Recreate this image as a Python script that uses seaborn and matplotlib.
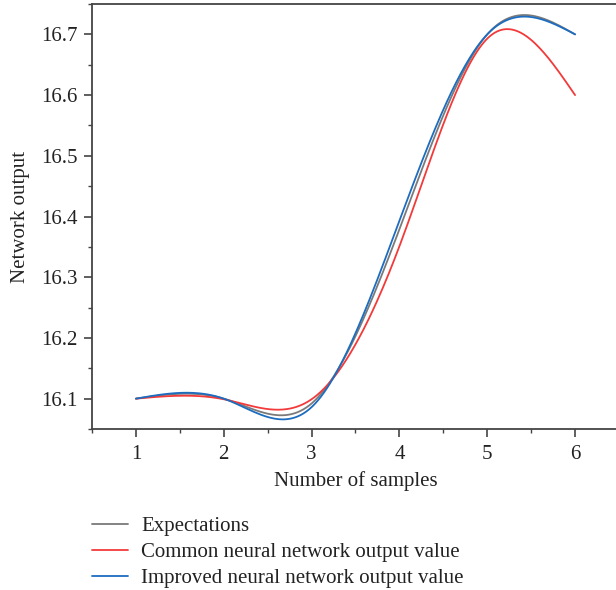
import numpy as np
import pandas as pd
import matplotlib
matplotlib.use("Agg")
import matplotlib.pyplot as plt
from matplotlib.ticker import MultipleLocator, FormatStrFormatter
import seaborn as sns

# ---- data ----
samples = [1, 2, 3, 4, 5, 6]
expectations = [16.100, 16.100, 16.092, 16.379, 16.700, 16.700]
common_nn = [16.100, 16.099, 16.099, 16.351, 16.693, 16.600]
improved_nn = [16.100, 16.100, 16.086, 16.393, 16.700, 16.700]
series_names = ["Expectations",
                "Common neural network output value",
                "Improved neural network output value"]
series_colors = ["#7a7a7a", "#f23a3a", "#1c6cc0"]
x_label = "Number of samples"
y_label = "Network output"


def natural_spline(x, y, xs):
    x = np.asarray(x, float)
    y = np.asarray(y, float)
    n = len(x)
    h = np.diff(x)
    A = np.zeros((n, n))
    b = np.zeros(n)
    A[0, 0] = 1
    A[-1, -1] = 1
    for i in range(1, n - 1):
        A[i, i - 1] = h[i - 1]
        A[i, i] = 2 * (h[i - 1] + h[i])
        A[i, i + 1] = h[i]
        b[i] = 6 * ((y[i + 1] - y[i]) / h[i] - (y[i] - y[i - 1]) / h[i - 1])
    M = np.linalg.solve(A, b)
    idx = np.clip(np.searchsorted(x, xs) - 1, 0, n - 2)
    x0, x1 = x[idx], x[idx + 1]
    hh = x1 - x0
    t0 = x1 - xs
    t1 = xs - x0
    return (M[idx] * t0 ** 3 / (6 * hh) + M[idx + 1] * t1 ** 3 / (6 * hh)
            + (y[idx] / hh - M[idx] * hh / 6) * t0
            + (y[idx + 1] / hh - M[idx + 1] * hh / 6) * t1)


sns.set_theme(style="white")
plt.rcParams["font.family"] = ["Liberation Serif", "DejaVu Serif"]

FS = 15
fig = plt.figure(figsize=(6.16, 5.90), dpi=100)
W, H = 616, 590
left_px, right_px, top_px, bottom_px = 92, 619, 4, 429
ax = fig.add_axes([left_px / W, (H - bottom_px) / H,
                   (right_px - left_px) / W, (bottom_px - top_px) / H])

xs = np.linspace(samples[0], samples[-1], 300)
frames = []
for name, vals in zip(series_names, [expectations, common_nn, improved_nn]):
    frames.append(pd.DataFrame({"x": xs, "y": natural_spline(samples, vals, xs),
                                "series": name}))
df = pd.concat(frames, ignore_index=True)

sns.lineplot(data=df, x="x", y="y", hue="series", hue_order=series_names,
             palette=series_colors, linewidth=1.3, ax=ax, sort=False,
             estimator=None)

ax.set_xlim(0.5, 6.5)
ax.set_ylim(16.05, 16.75)
ax.xaxis.set_major_locator(MultipleLocator(1))
ax.xaxis.set_minor_locator(MultipleLocator(0.5))
ax.yaxis.set_major_locator(MultipleLocator(0.1))
ax.yaxis.set_minor_locator(MultipleLocator(0.05))
ax.yaxis.set_major_formatter(FormatStrFormatter("%.1f"))

spine_col = "#444444"
for s in ["left", "bottom", "top"]:
    ax.spines[s].set_visible(True)
    ax.spines[s].set_color(spine_col)
    ax.spines[s].set_linewidth(1.3)
ax.spines["right"].set_visible(False)

ax.tick_params(axis="both", which="major", direction="out", length=5.5,
               width=1.2, color=spine_col, labelsize=FS, labelcolor="#222222",
               bottom=True, left=True, top=False, right=False)
ax.tick_params(axis="x", which="major", pad=6.2)
ax.tick_params(axis="y", which="major", pad=5)
ax.tick_params(axis="both", which="minor", direction="out", length=3,
               width=1.0, color=spine_col, bottom=True, left=True,
               top=False, right=False)

ax.set_xlabel(x_label, fontsize=FS, color="#222222", labelpad=5)
ax.set_ylabel(y_label, fontsize=FS, color="#222222", labelpad=8)

handles, labels = ax.get_legend_handles_labels()
ax.get_legend().remove()
fig.legend(handles, labels, loc="upper left",
           bbox_to_anchor=(84 / W, 1 - 508 / H), frameon=False,
           fontsize=FS, handlelength=1.7, handletextpad=0.65,
           labelspacing=0.32, borderaxespad=0, labelcolor="#222222")

fig.savefig("out.png", dpi=100)
